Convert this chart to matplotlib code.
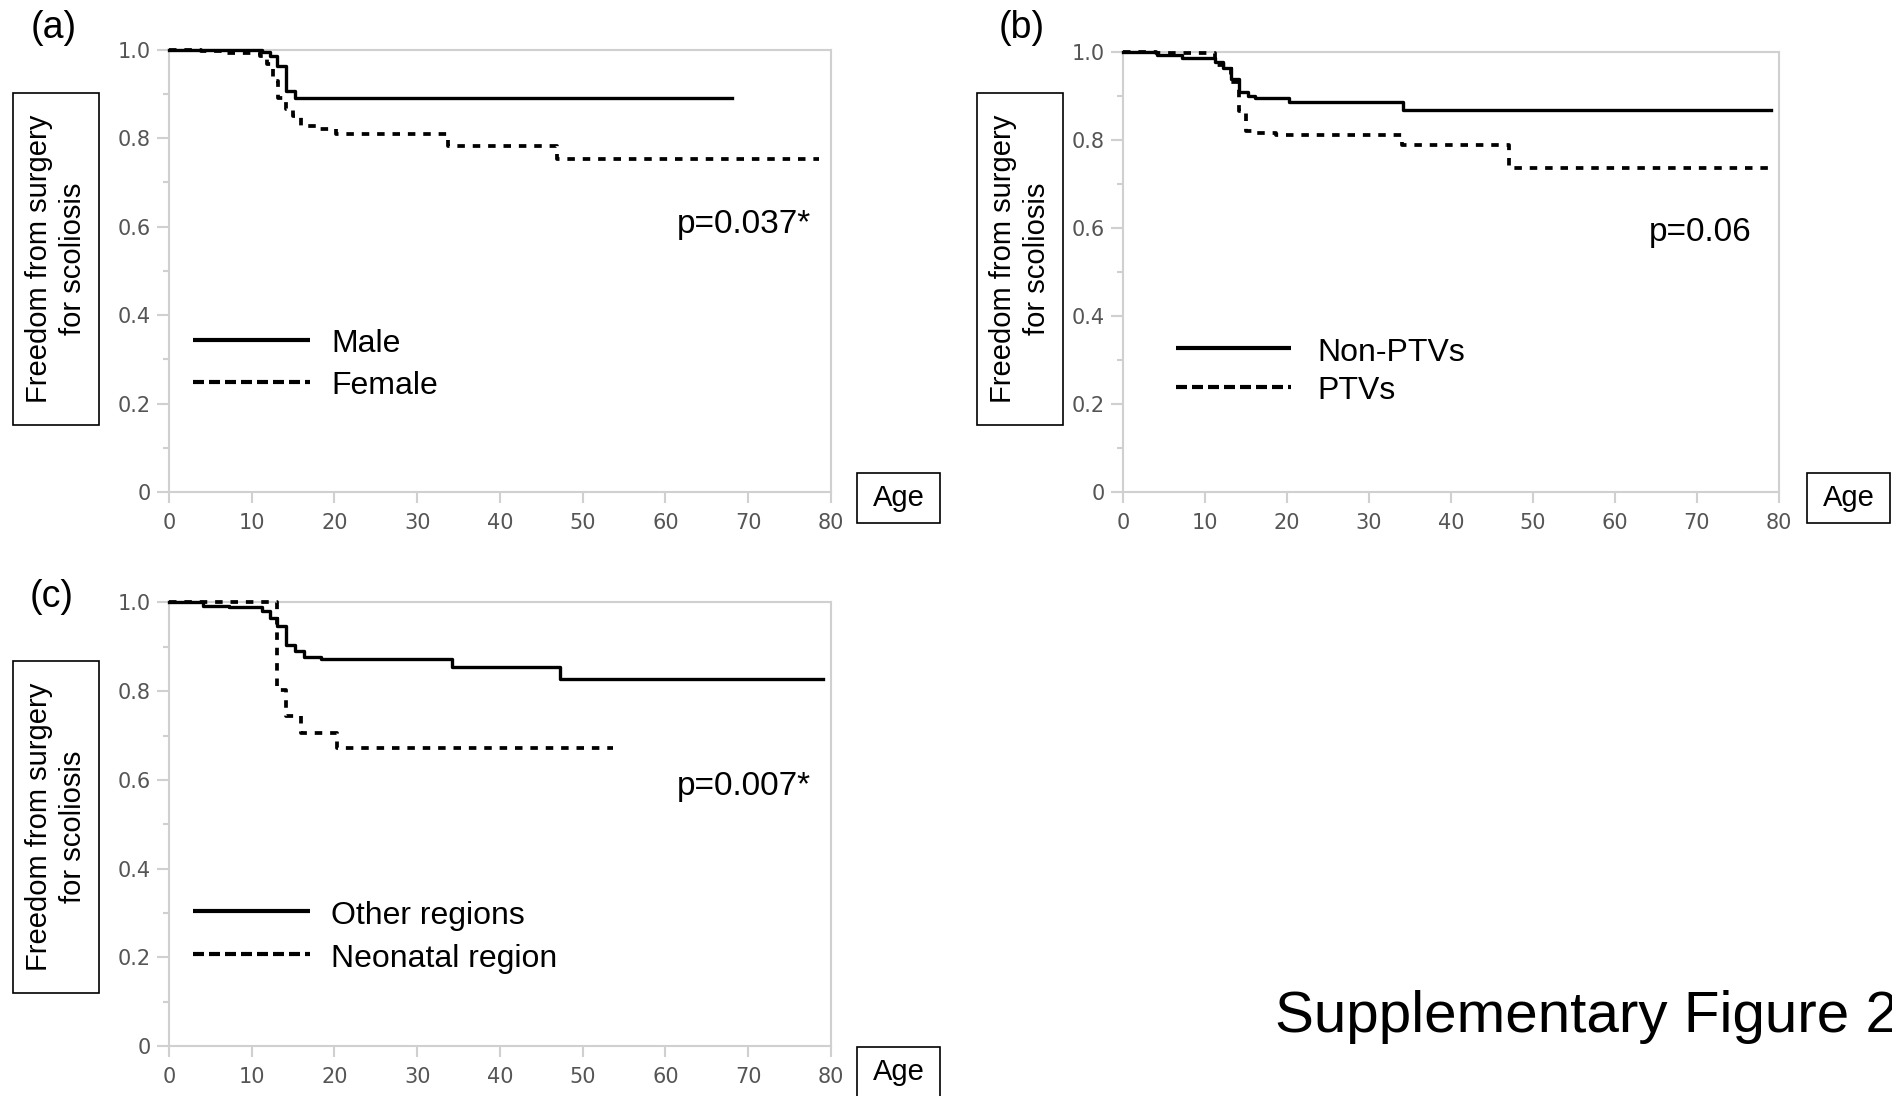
import matplotlib
matplotlib.use("Agg")
import matplotlib.pyplot as plt
from matplotlib.patches import Rectangle

# panel (a) sex
male_t = [0, 11.2, 12.2, 13.1, 14.2, 15.2]
male_s = [1.0, 0.995, 0.985, 0.962, 0.906, 0.891]
male_end = 68
female_t = [0, 3.9, 7.0, 11.0, 11.8, 12.6, 13.2, 14.1, 15.0, 15.9, 17.8, 20.2, 33.7, 46.9]
female_s = [1.0, 0.996, 0.992, 0.985, 0.968, 0.93, 0.89, 0.866, 0.849, 0.827, 0.82, 0.81, 0.783, 0.752]
female_end = 78.5

# panel (b) PTVs
nonptv_t = [0, 4.1, 7.2, 11.2, 12.2, 13.2, 14.2, 15.3, 16.1, 20.2, 34.2]
nonptv_s = [1.0, 0.992, 0.986, 0.976, 0.962, 0.938, 0.908, 0.9, 0.894, 0.886, 0.868]
nonptv_end = 79
ptv_t = [0, 4.0, 11.2, 13.2, 14.1, 15.0, 16.1, 18.7, 34.0, 47.1]
ptv_s = [1.0, 0.997, 0.97, 0.93, 0.865, 0.82, 0.815, 0.81, 0.788, 0.735]
ptv_end = 78.7

# panel (c) region
other_t = [0, 4.1, 7.2, 11.2, 12.2, 13.1, 14.1, 15.2, 16.3, 18.4, 34.2, 47.2]
other_s = [1.0, 0.993, 0.99, 0.98, 0.965, 0.946, 0.905, 0.89, 0.877, 0.873, 0.854, 0.827]
other_end = 79
neo_t = [0, 13.0, 14.1, 16.0, 20.3]
neo_s = [1.0, 0.803, 0.743, 0.705, 0.672]
neo_end = 53.7

x_ticks = [0, 10, 20, 30, 40, 50, 60, 70, 80]
y_ticks = [0, 0.2, 0.4, 0.6, 0.8, 1.0]
y_labels = ["0", "0.2", "0.4", "0.6", "0.8", "1.0"]

SANS = "Liberation Sans"
GRAY = "#d0d0d0"


def km(ax, t, s, end, dashed):
    tt = list(t) + [end]
    ss = list(s) + [s[-1]]
    if dashed:
        ln, = ax.step(tt, ss, where="post", color="black", lw=2.7, zorder=3, clip_on=False)
        ln.set_dashes((2.0, 2.1))
    else:
        ax.step(tt, ss, where="post", color="black", lw=2.4, zorder=3, clip_on=False)


def setup(ax):
    ax.set_xlim(0, 80)
    ax.set_ylim(0, 1)
    for sp in ax.spines.values():
        sp.set_color(GRAY)
        sp.set_linewidth(1.5)
    ax.set_xticks(x_ticks)
    ax.set_yticks(y_ticks)
    ax.set_yticklabels(y_labels)
    ax.set_yticks([0.1, 0.3, 0.5, 0.7, 0.9], minor=True)
    ax.tick_params(axis="both", which="major", color=GRAY, width=1.5, labelcolor="#555555",
                   labelsize=15)
    ax.tick_params(axis="x", which="major", length=8, pad=7)
    ax.tick_params(axis="y", which="major", length=9, pad=4)
    ax.tick_params(axis="y", which="minor", length=4, color=GRAY, width=1.5)
    for lab in ax.get_xticklabels() + ax.get_yticklabels():
        lab.set_family("DejaVu Sans")


def legend(ax, x0, x1, xt, ys, yd, lab1, lab2):
    ax.plot([x0, x1], [ys, ys], color="black", lw=3, solid_capstyle="butt")
    l2, = ax.plot([x0, x1], [yd, yd], color="black", lw=3)
    l2.set_dashes((2.64, 1.2))
    ax.text(xt, ys - 0.028, lab1, fontsize=23, family=SANS, va="baseline")
    ax.text(xt, yd - 0.028, lab2, fontsize=23, family=SANS, va="baseline")


def boxtext(fig, x0, y0, w, h, txt, size, rot=0):
    fig.patches.append(Rectangle((x0, y0), w, h, transform=fig.transFigure, fill=False,
                                 edgecolor="black", lw=1.2))
    fig.text(x0 + w / 2, y0 + h / 2, txt, ha="center", va="center", rotation=rot,
             fontsize=size, family=SANS, linespacing=1.25, multialignment="center")


fig = plt.figure(figsize=(18.92, 10.96), dpi=100)

ax_a = fig.add_axes([0.0893, 0.5511, 0.3499, 0.4037])
ax_b = fig.add_axes([0.5935, 0.5511, 0.3467, 0.4019])
ax_c = fig.add_axes([0.0893, 0.0456, 0.3499, 0.4047])

for ax in (ax_a, ax_b, ax_c):
    setup(ax)

km(ax_a, male_t, male_s, male_end, False)
km(ax_a, female_t, female_s, female_end, True)
legend(ax_a, 2.9, 17.0, 19.6, 0.3435, 0.249, "Male", "Female")
ax_a.text(77.6, 0.586, "p=0.037*", fontsize=24, family=SANS, ha="right", va="baseline")

km(ax_b, nonptv_t, nonptv_s, nonptv_end, False)
km(ax_b, ptv_t, ptv_s, ptv_end, True)
legend(ax_b, 6.5, 20.5, 23.7, 0.326, 0.238, "Non-PTVs", "PTVs")
ax_b.text(76.7, 0.570, "p=0.06", fontsize=24, family=SANS, ha="right", va="baseline")

km(ax_c, other_t, other_s, other_end, False)
km(ax_c, neo_t, neo_s, neo_end, True)
legend(ax_c, 2.9, 17.0, 19.6, 0.304, 0.2065, "Other regions", "Neonatal region")
ax_c.text(77.6, 0.566, "p=0.007*", fontsize=24, family=SANS, ha="right", va="baseline")

ylab = "Freedom from surgery\nfor scoliosis"
boxtext(fig, 0.00687, 0.6122, 0.04545, 0.3029, ylab, 21, rot=90)
boxtext(fig, 0.5164, 0.6122, 0.04545, 0.3029, ylab, 21, rot=90)
boxtext(fig, 0.00687, 0.0940, 0.04545, 0.3029, ylab, 21, rot=90)

boxtext(fig, 0.4530, 0.5228, 0.04387, 0.0456, "Age", 21)
boxtext(fig, 0.9551, 0.5228, 0.04387, 0.0456, "Age", 21)
boxtext(fig, 0.4530, -0.0009, 0.04387, 0.0456, "Age", 21)

fig.text(0.0285, 0.9745, "(a)", fontsize=27, family=SANS, ha="center", va="center")
fig.text(0.5402, 0.9745, "(b)", fontsize=27, family=SANS, ha="center", va="center")
fig.text(0.0275, 0.4553, "(c)", fontsize=27, family=SANS, ha="center", va="center")

# the reference crops the last character at the right edge as well
fig.text(0.6739, 0.0584, "Supplementary Figure 2", fontsize=42, family=SANS,
         ha="left", va="baseline")

fig.savefig("out.png", dpi=100)
